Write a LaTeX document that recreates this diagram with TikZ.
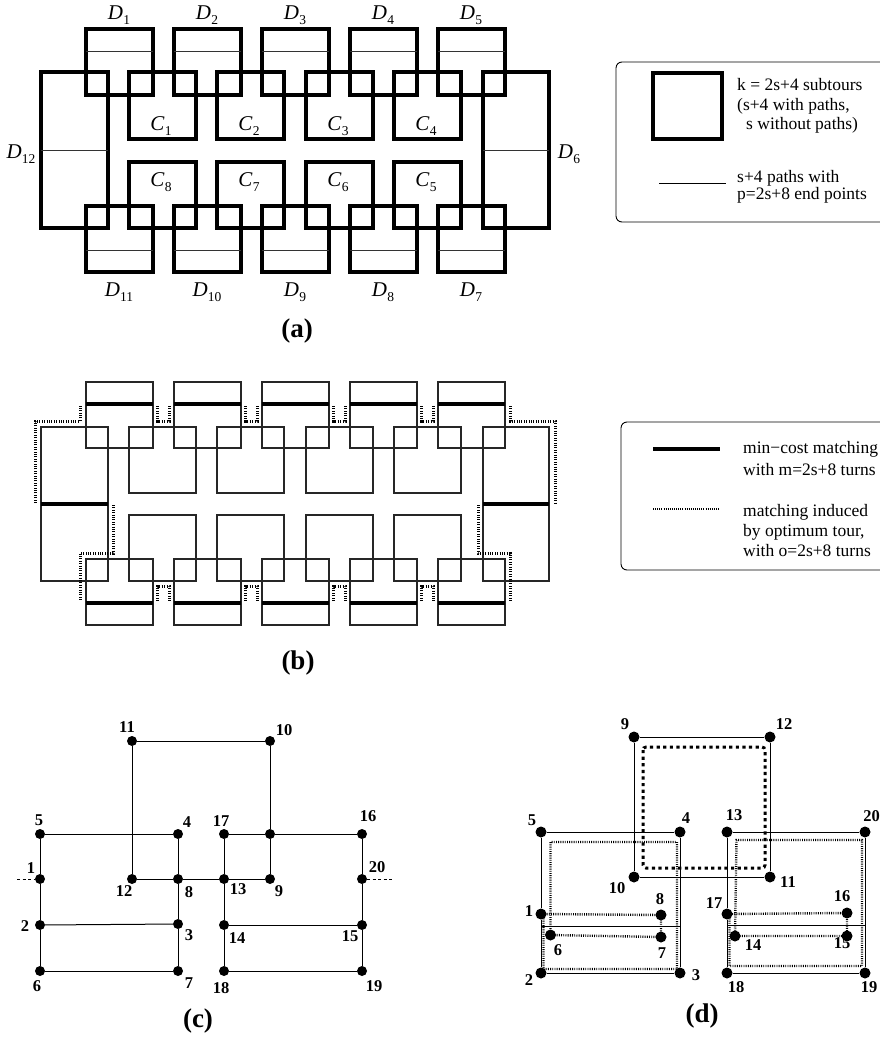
\documentclass[tikz,border=0pt]{standalone}
\usepackage{fontspec}
\setmainfont{Liberation Serif}
\newcommand\subx[1]{\kern0.3pt\raisebox{-5.5pt}{\fontsize{13.5}{13.5}\selectfont\upshape #1}}
\begin{document}
\begin{tikzpicture}[x=1pt,y=-1pt,
  thickbox/.style={line width=3.8pt},
  thinbox/.style={line width=1.1pt, draw=black!85},
  pathline/.style={line width=0.9pt, draw=black!80},
  matchline/.style={line width=3.8pt},
  tourline/.style={line width=3pt, dash pattern=on 1pt off 1.4pt},
  dtour/.style={line width=2.4pt, dash pattern=on 0.9pt off 1.3pt},
  legdot/.style={line width=1.6pt, dash pattern=on 0.8pt off 1.3pt},
  bigdot/.style={line width=3pt, dash pattern=on 3.2pt off 3.4pt, rounded corners=3pt},
  legbox/.style={line width=0.9pt, rounded corners=6pt},
  dot/.style={circle, fill=black, inner sep=0pt, minimum size=10pt},
  ddot/.style={circle, fill=black, inner sep=0pt, minimum size=11pt},
  num/.style={font=\fontsize{16.5}{16.5}\selectfont\bfseries, inner sep=0pt},
  caplabel/.style={font=\fontsize{27}{27}\selectfont\bfseries, inner sep=0pt},
  lbl/.style={font=\fontsize{21}{21}\selectfont\itshape, inner sep=0pt},
  legtext/.style={align=left, inner sep=0pt, anchor=base west},
  edge/.style={line width=1pt},
  stub/.style={line width=0.7pt, dash pattern=on 3pt off 2.5pt},
]
\useasboundingbox (0,0) rectangle (880,1038);
\clip (0,0) rectangle (880,1038);

% ================= (a) =================
\foreach \x/\i in {86/1,174/2,262/3,350/4,438/5} {
  \draw[thickbox] (\x,29) rectangle ++(67,66);
  \draw[pathline] (\x,51) -- ++(67,0);
  \node[lbl] (aDt\i) at (\x+33,15) {D\subx{\i}};
}
\foreach \x/\i in {86/11,174/10,262/9,350/8,438/7} {
  \draw[thickbox] (\x,206) rectangle ++(67,66);
  \draw[pathline] (\x,250) -- ++(67,0);
  \node[lbl] (aDb\i) at (\x+33,292) {D\subx{\i}};
}
\foreach \x/\i in {129/1,217/2,306/3,394/4} {
  \draw[thickbox] (\x,72) rectangle ++(67,67);
  \node[lbl] (aCt\i) at (\x+32,126) {C\subx{\i}};
}
\foreach \x/\i in {129/8,217/7,306/6,394/5} {
  \draw[thickbox] (\x,162) rectangle ++(67,66);
  \node[lbl] (aCb\i) at (\x+32,182) {C\subx{\i}};
}
\draw[thickbox] (41,72) rectangle (108,228);
\draw[pathline] (41,150) -- (108,150);
\node[lbl] (aD12) at (21,154) {D\subx{12}};
\draw[thickbox] (483,72) rectangle (549,228);
\draw[pathline] (483,150) -- (549,150);
\node[lbl] (aD6) at (569,154) {D\subx{6}};

% legend (a)
\draw[legbox] (616,62) rectangle (900,222);
\draw[thickbox] (653,73) rectangle (722,139);
\node[legtext, font=\fontsize{17.5}{19.3}\selectfont] (la1) at (737,129.6)
  {k = 2s+4 subtours\\(s+4 with paths,\\\hspace{9pt}s without paths)};
\draw[line width=0.9pt] (659,183) -- (726,183);
\node[legtext, font=\fontsize{17.5}{15}\selectfont] (la2) at (737,199.3)
  {s+4 paths with\\p=2s+8 end points};
\node[caplabel] (capa) at (297,331) {(a)};

% ================= (b) =================
\foreach \x in {86,174,262,350,438} {
  \draw[thinbox] (\x,382) rectangle ++(67,66);
  \draw[matchline] (\x,404) -- ++(67,0);
  \draw[thinbox] (\x,559) rectangle ++(67,66);
  \draw[matchline] (\x,603) -- ++(67,0);
}
\foreach \x in {129,217,306,394} {
  \draw[thinbox] (\x,427) rectangle ++(67,66);
  \draw[thinbox] (\x,515) rectangle ++(67,66);
}
\draw[thinbox] (41,427) rectangle (108,581);
\draw[matchline] (41,504) -- (108,504);
\draw[thinbox] (483,427) rectangle (549,581);
\draw[matchline] (483,504) -- (549,504);

% optimum tour matching
\draw[tourline] (35,503) -- (35,421) -- (80,421) -- (80,406);
\foreach \x in {153,241,329,417} {
  \draw[tourline] (\x+4.5,406) -- (\x+4.5,421) -- (\x+16,421) -- (\x+16,406);
  \draw[tourline] (\x+4.5,601) -- (\x+4.5,586) -- (\x+16,586) -- (\x+16,601);
}
\draw[tourline] (510,406) -- (510,421) -- (555,421) -- (555,503);
\draw[tourline] (113,505) -- (113,553) -- (80,553) -- (80,601);
\draw[tourline] (478,505) -- (478,553) -- (510,553) -- (510,601);

% legend (b)
\draw[legbox] (621,422) rectangle (900,570);
\draw[matchline] (653,449) -- (720,449);
\node[legtext, font=\fontsize{17.5}{22}\selectfont] (lb1) at (743,475)
  {min−cost matching\\with m=2s+8 turns};
\draw[legdot] (653,509) -- (720,509);
\node[legtext, font=\fontsize{17.5}{20}\selectfont] (lb2) at (743,556)
  {matching induced\\by optimum tour,\\with o=2s+8 turns};
\node[caplabel] (capb) at (298,663) {(b)};

% ================= (c) =================
\foreach \n/\x/\y in {11/132/741, 10/270/741, 5/40/834, 4/178/834, 17/224/834, j/270/834,
  16/362/834, 1/40/879, 12/132/879, 8/178/879, 13/224/879, 9/270/879, 20/362/879,
  2/40/925, 3/178/924, 14/224/925, 15/362/925, 6/40/971, 7/178/971, 18/224/971, 19/362/971} {
  \node[dot] (c\n) at (\x,\y) {};
}
\foreach \a/\b in {11/10, 11/12, 10/j, j/9, 5/4, 4/8, 8/3, 3/7, 5/1, 1/2, 2/6, 2/3, 6/7,
  12/8, 8/13, 13/9, 17/j, j/16, 17/13, 13/14, 14/18, 16/20, 20/15, 15/19, 14/15, 18/19} {
  \draw[edge] (c\a) -- (c\b);
}
\coordinate (cL) at (17,879);
\coordinate (cR) at (393,879);
\draw[stub] (cL) -- (c1);
\draw[stub] (c20) -- (cR);
\foreach \x/\y/\t in {127/727/11, 284/730/10, 39/820/5, 187/822/4, 221/821/17, 368/816/16,
  31/868/1, 377/867/20, 124/891/12, 189/892/8, 238/889/13, 279/891/9, 25/926/2, 189/935/3,
  237/938/14, 350/936/15, 37/986/6, 189/983/7, 221/988/18, 374/986/19} {
  \node[num] (cl\t) at (\x,\y) {\t};
}
\node[caplabel] (capc) at (198,1021) {(c)};

% ================= (d) =================
\foreach \n/\x/\y in {9/634/737, 12/770/737, 5/541/832, 4/680/832, 13/727/832, 20/865/832,
  10/634/877, 11/770/877, 1/541/914, 8/661/915, 17/727/914, 16/847/913, 6/550.5/935,
  7/661/937, 14/735/936, 15/847/936, 2/541/973, 3/680/973, 18/727/973, 19/865/973} {
  \node[ddot] (d\n) at (\x,\y) {};
}
\foreach \a/\b in {9/12, 9/10, 12/11, 10/11, 5/4, 5/1, 1/2, 2/3, 3/4,
  13/20, 13/17, 17/18, 18/19, 19/20} {
  \draw[edge] (d\a) -- (d\b);
}
\coordinate (dmL1) at (541,926);
\coordinate (dmL2) at (680,926);
\coordinate (dmR1) at (727,925);
\coordinate (dmR2) at (865,925);
\draw[edge] (dmL1) -- (dmL2);
\draw[edge] (dmR1) -- (dmR2);
% tours
\draw[dtour] (543.5,914) -- (543.5,969) -- (677,969) -- (677,842) -- (550.5,842)
  -- (d6.center) -- (d7.center) -- (d8.center) -- (d1.center);
\draw[dtour] (729.5,914) -- (729.5,966) -- (862,966) -- (862,840) -- (736.5,840)
  -- (d14.center) -- (d15.center) -- (d16.center) -- (d17.center);
\draw[bigdot] (643,747) rectangle (765,868);
\foreach \x/\y/\t in {625/724/9, 784/724/12, 532/820/5, 686/818/4, 734/815/13, 871.5/816/20,
  617/888/10, 788/882/11, 660/899/8, 714/903/17, 842/896/16, 529/911/1, 558/950/6,
  662/953/7, 753/945/14, 842/943/15, 529/980/2, 696/975/3, 736/987/18, 869/987/19} {
  \node[num] (dl\t) at (\x,\y) {\t};
}
\node[caplabel] (capd) at (702,1016) {(d)};
\end{tikzpicture}
\end{document}
